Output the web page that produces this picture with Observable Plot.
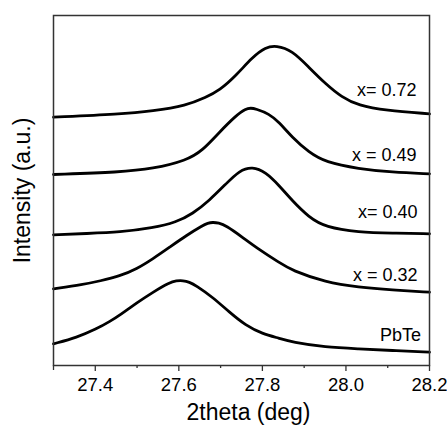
<!DOCTYPE html>
<html><head><meta charset="utf-8">
<script src="https://cdn.jsdelivr.net/npm/d3@7"></script>
<script src="https://cdn.jsdelivr.net/npm/@observablehq/plot@0.6"></script>
<style>body{margin:0;background:#fff;}</style>
</head><body><div id="chart"></div>
<script>
const seriesNames = ["PbTe", "x = 0.32", "x= 0.40", "x = 0.49", "x= 0.72"];

const pbteX = [27.30, 27.356, 27.403, 27.435, 27.459, 27.499, 27.538, 27.578, 27.594, 27.610, 27.625, 27.641, 27.681, 27.721, 27.760, 27.800, 27.840, 27.871, 27.951, 28.030, 28.110, 28.20];
const pbteY = [21.7, 28.0, 36.6, 44.0, 50.5, 62.5, 73.3, 83.0, 84.8, 85.0, 83.5, 80.0, 68.3, 53.3, 40.0, 31.7, 27.3, 23.3, 18.3, 16.7, 15.0, 13.3];

const x032X = [27.30, 27.371, 27.411, 27.459, 27.499, 27.538, 27.578, 27.618, 27.657, 27.669, 27.681, 27.695, 27.713, 27.752, 27.792, 27.840, 27.871, 27.951, 28.030, 28.110, 28.20];
const x032Y = [76.7, 81.0, 84.5, 89.5, 96.5, 106.7, 118.3, 130.0, 140.0, 142.3, 143.3, 142.6, 140.0, 128.3, 116.0, 103.0, 95.0, 83.3, 78.3, 75.5, 73.3];

const x040X = [27.30, 27.38, 27.459, 27.538, 27.594, 27.633, 27.673, 27.713, 27.745, 27.776, 27.808, 27.840, 27.871, 27.911, 27.951, 28.030, 28.110, 28.20];
const x040Y = [130.7, 132.0, 133.3, 137.5, 143.3, 151.7, 165.0, 181.7, 195.0, 199.0, 193.3, 180.0, 165.0, 148.3, 138.3, 133.3, 132.3, 131.7];

const x049X = [27.30, 27.459, 27.538, 27.618, 27.657, 27.697, 27.737, 27.760, 27.772, 27.784, 27.816, 27.840, 27.871, 27.911, 27.951, 28.030, 28.110, 28.20];
const x049Y = [191.0, 193.3, 196.7, 205.0, 215.0, 233.3, 250.0, 256.7, 257.5, 256.7, 251.7, 243.3, 228.3, 213.3, 203.3, 196.7, 193.3, 191.7];

const x072X = [27.30, 27.459, 27.538, 27.618, 27.665, 27.697, 27.737, 27.776, 27.808, 27.833, 27.871, 27.911, 27.951, 27.990, 28.030, 28.094, 28.20];
const x072Y = [248.3, 251.3, 254.5, 260.0, 268.3, 275.0, 290.0, 308.3, 318.3, 320.0, 315.0, 298.3, 281.7, 268.3, 260.0, 255.0, 251.7];

const xTicks = [27.4, 27.6, 27.8, 28.0, 28.2];
const xMinorTicks = [27.5, 27.7, 27.9, 28.1];
const xEdgeTick = [27.3];
const xTitle = "2theta (deg)";
const yTitle = "Intensity (a.u.)";

const seriesX = [pbteX, x032X, x040X, x049X, x072X];
const seriesY = [pbteY, x032Y, x040Y, x049Y, x072Y];

const rows = seriesNames.flatMap((name, s) => seriesX[s].map((x, i) => ({series: name, x, y: seriesY[s][i]})));

// label placement (style): pixel shift left from frame edge and lift above the curve end
const labelDx = [-8.5, -12, -12, -13, -13];
const labelLift = [16.7, 17.4, 21.6, 18.3, 24];

const labelMarks = seriesNames.map((name, s) =>
  Plot.text([{name, x: seriesX[s][seriesX[s].length - 1], y: seriesY[s][seriesY[s].length - 1]}], {
    x: "x", y: "y", text: "name", textAnchor: "end", lineAnchor: "middle", dx: labelDx[s], dy: -labelLift[s],
    fontSize: 18, fill: "#000"
  })
);

const font = "'Liberation Sans', Arial, Helvetica, sans-serif";

const chart = Plot.plot({
  width: 447,
  height: 431,
  marginTop: 15,
  marginLeft: 53,
  marginRight: 18,
  marginBottom: 66,
  style: {fontFamily: font, fontSize: "18px", color: "#000", background: "#fff", overflow: "visible"},
  x: {domain: [27.3, 28.2]},
  y: {domain: [0, 350], axis: null},
  marks: [
    Plot.axisX({ticks: xTicks, tickSize: 6, tickPadding: 6, tickFormat: d => d.toFixed(1), label: null, stroke: "#333", strokeWidth: 1.3, fontSize: 18.5, fill: "#000"}),
    Plot.axisX({ticks: xMinorTicks, tickSize: 3, tickFormat: () => "", label: null, stroke: "#333", strokeWidth: 1.3}),
    Plot.axisX({ticks: xEdgeTick, tickSize: 5, tickFormat: () => "", label: null, stroke: "#333", strokeWidth: 1.3}),
    Plot.line(rows, {x: "x", y: "y", z: "series", curve: "basis", stroke: "#000", strokeWidth: 2.8}),
    Plot.frame({stroke: "#333", strokeWidth: 1.5}),
    ...labelMarks,
    Plot.text([xTitle], {frameAnchor: "bottom", lineAnchor: "middle", textAnchor: "middle", dx: 7, dy: 47.5, fontSize: 23, fill: "#000"}),
    Plot.text([yTitle], {frameAnchor: "left", lineAnchor: "middle", textAnchor: "middle", rotate: -90, dx: -31, fontSize: 23, fill: "#000"})
  ]
});
document.getElementById("chart").appendChild(chart);
</script>
</body></html>
